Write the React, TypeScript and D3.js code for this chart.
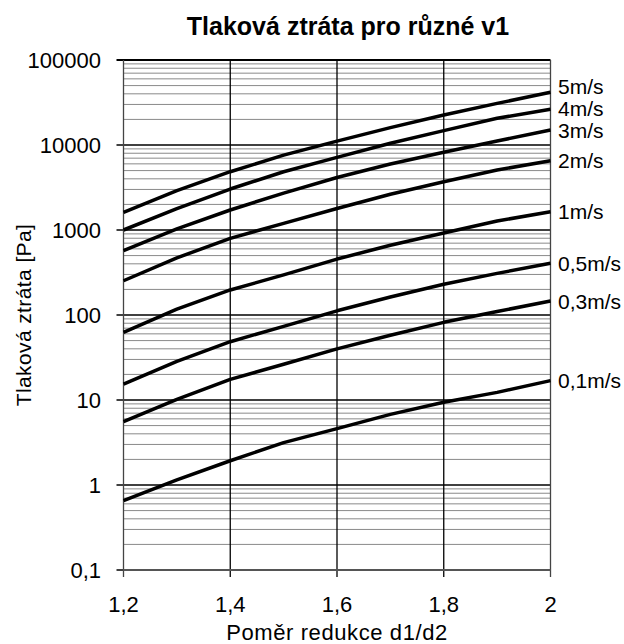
import React from "react";
import * as d3 from "d3";

const ratios = [1.2, 1.3, 1.4, 1.5, 1.6, 1.7, 1.8, 1.9, 2.0];
const seriesNames = ["5m/s", "4m/s", "3m/s", "2m/s", "1m/s", "0,5m/s", "0,3m/s", "0,1m/s"];
const v5 = [1615, 2900, 4850, 7600, 11100, 16000, 22500, 30900, 41700];
const v4 = [1000, 1780, 3035, 4850, 7150, 10500, 14750, 20600, 26300];
const v3 = [571, 1030, 1720, 2720, 4150, 5970, 8200, 11150, 15000];
const v2 = [253, 470, 798, 1198, 1790, 2630, 3700, 5080, 6540];
const v1 = [62.5, 117, 197, 296, 455, 661, 920, 1276, 1643];
const v05 = [15.4, 28.5, 48.5, 73.6, 112, 163, 230, 309, 406];
const v03 = [5.56, 10.2, 17.5, 26.3, 40, 57.7, 82, 110, 146];
const v01 = [0.655, 1.15, 1.93, 3.15, 4.6, 6.78, 9.4, 12.3, 16.9];
const seriesValues = [v5, v4, v3, v2, v1, v05, v03, v01];

const xTicks = [1.2, 1.4, 1.6, 1.8, 2.0];
const xTickLabels = ["1,2", "1,4", "1,6", "1,8", "2"];
const yTicks = [0.1, 1, 10, 100, 1000, 10000, 100000];
const yTickLabels = ["0,1", "1", "10", "100", "1000", "10000", "100000"];

const title = "Tlaková ztráta pro různé v1";
const xTitle = "Poměr redukce d1/d2";
const yTitle = "Tlaková ztráta [Pa]";

const W = 624;
const H = 644;
const FONT = "'Liberation Sans', Arial, sans-serif";

export default function App() {
  const x = d3.scaleLinear().domain([1.2, 2.0]).range([123.5, 550.5]);
  const y = d3.scaleLog().domain([0.1, 100000]).range([570, 60]);

  const minor: number[] = [];
  for (let e = -1; e < 5; e++) {
    for (let m = 2; m <= 9; m++) minor.push(m * Math.pow(10, e));
  }

  const line = d3
    .line<number>()
    .x((_, i) => x(ratios[i]))
    .y((d) => y(d));

  const labelY = seriesValues.map((s) => y(s[s.length - 1]));
  for (let i = labelY.length - 2; i >= 0; i--) {
    if (labelY[i] > labelY[i + 1] - 22) labelY[i] = labelY[i + 1] - 22;
  }

  return (
    <svg
      width={W}
      height={H}
      style={{ position: "absolute", left: 0, top: 0, background: "#fff" }}
      fontFamily={FONT}
    >
      <rect x={0} y={0} width={W} height={H} fill="#fff" />
      {minor.map((v, i) => (
        <line
          key={"m" + i}
          x1={x(1.2)}
          x2={x(2.0)}
          y1={y(v)}
          y2={y(v)}
          stroke="#8a8a8a"
          strokeWidth={1}
        />
      ))}
      {yTicks.map((v, i) => (
        <line
          key={"M" + i}
          x1={x(1.2) - 7}
          x2={x(2.0)}
          y1={y(v)}
          y2={y(v)}
          stroke="#000"
          strokeWidth={i === yTicks.length - 1 ? 2 : 1.3}
        />
      ))}
      {xTicks.map((v, i) => (
        <line
          key={"v" + i}
          x1={x(v)}
          x2={x(v)}
          y1={y(100000)}
          y2={y(0.1) + 7}
          stroke={i === 0 || i === xTicks.length - 1 ? "#444" : "#000"}
          strokeWidth={1.3}
        />
      ))}
      <line x1={x(1.2)} x2={x(2.0)} y1={y(0.1)} y2={y(0.1)} stroke="#555" strokeWidth={2} />
      {seriesValues.map((s, i) => (
        <path
          key={"s" + i}
          d={line(s) || ""}
          fill="none"
          stroke="#000"
          strokeWidth={3.5}
          strokeLinejoin="round"
        />
      ))}
      {seriesNames.map((n, i) => (
        <text key={"l" + i} x={558} y={labelY[i]} dy="0.36em" fontSize={21} fill="#000">
          {n}
        </text>
      ))}
      {yTicks.map((v, i) => (
        <text
          key={"yt" + i}
          x={101}
          y={y(v)}
          dy="0.36em"
          textAnchor="end"
          fontSize={22}
          fill="#000"
        >
          {yTickLabels[i]}
        </text>
      ))}
      {xTicks.map((v, i) => (
        <text key={"xt" + i} x={x(v)} y={612} textAnchor="middle" fontSize={22} fill="#000">
          {xTickLabels[i]}
        </text>
      ))}
      <text x={348} y={35} textAnchor="middle" fontSize={25} fontWeight="bold" fill="#000">
        {title}
      </text>
      <text
        x={337}
        y={640}
        textAnchor="middle"
        fontSize={22}
        letterSpacing={0.6}
        fill="#000"
      >
        {xTitle}
      </text>
      <text
        transform={`translate(31,315) rotate(-90)`}
        textAnchor="middle"
        fontSize={21}
        letterSpacing={0.4}
        fill="#000"
      >
        {yTitle}
      </text>
    </svg>
  );
}
